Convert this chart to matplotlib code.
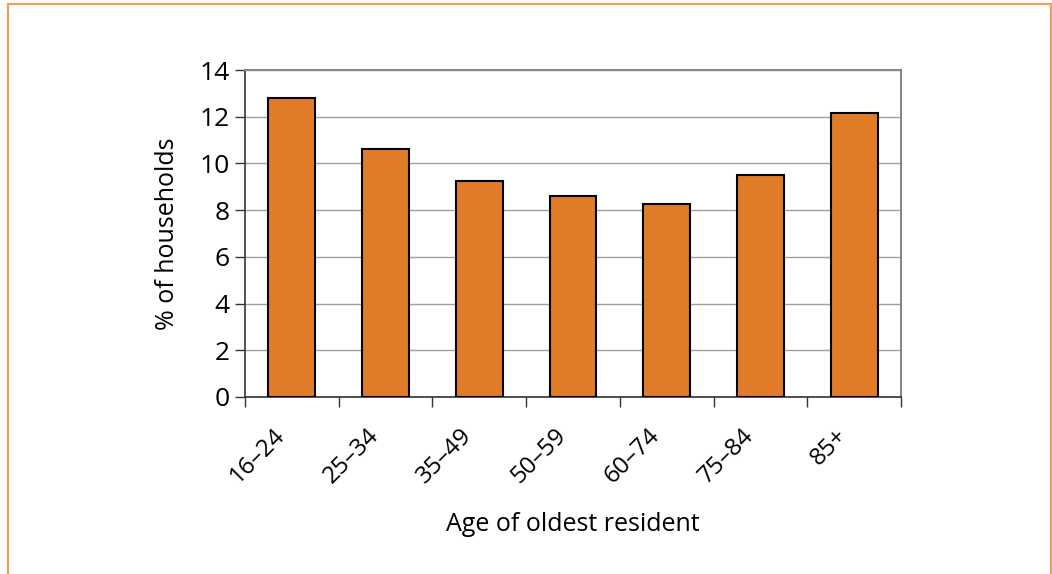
import matplotlib
matplotlib.use("Agg")
import matplotlib.pyplot as plt
from matplotlib.patches import Rectangle
from matplotlib.transforms import ScaledTranslation
import numpy as np

categories = ["16–24", "25–34", "35–49", "50–59", "60–74", "75–84", "85+"]
values = [12.8, 10.6, 9.25, 8.6, 8.25, 9.5, 12.15]
yticks = [0, 2, 4, 6, 8, 10, 12, 14]

plt.rcParams['font.family'] = ['Open Sans', 'DejaVu Sans']

fig = plt.figure(figsize=(10.52, 5.74), dpi=100)
ax = fig.add_axes([245/1052, 1 - 397/574, 656/1052, 327/574])

x = np.arange(len(categories))
ax.bar(x, values, width=0.5, color="#e07b28", edgecolor="black", linewidth=1.5, zorder=3)

ax.set_xlim(-0.5, len(categories) - 0.5)
ax.set_ylim(0, 14)
ax.set_yticks(yticks)
ax.set_yticklabels([str(t) for t in yticks], fontsize=19)
ax.yaxis.grid(True, color="#a0a0a0", linewidth=1.0, zorder=0)

ax.set_xticks(x)
ax.set_xticklabels(categories, rotation=45, ha="right", rotation_mode="anchor", fontsize=17.5)
ax.tick_params(axis="x", length=0, pad=14)
offset = ScaledTranslation(-19/100, -7/100, fig.dpi_scale_trans)
for lbl in ax.get_xticklabels():
    lbl.set_transform(lbl.get_transform() + offset)
ax.set_xticks(np.arange(len(categories) + 1) - 0.5, minor=True)
ax.tick_params(axis="x", which="minor", length=7, width=1, color="#333333", direction="out")
ax.tick_params(axis="y", length=7, width=1, color="#333333", direction="out", pad=4)

for s in ["top", "right"]:
    ax.spines[s].set_color("#888888")
    ax.spines[s].set_linewidth(1.5)
ax.spines["left"].set_color("#333333")
ax.spines["bottom"].set_color("#333333")
ax.spines["left"].set_linewidth(1.2)
ax.spines["bottom"].set_linewidth(1.2)

ax.set_ylabel("% of households", fontsize=18, labelpad=14)
ax.set_xlabel("Age of oldest resident", fontsize=18, labelpad=17)

# figure border
fig.patches.append(Rectangle((8/1052, -0.01), (1051 - 8)/1052, 1 - 4/574 + 0.01,
                             transform=fig.transFigure, fill=False,
                             edgecolor="#f0a050", linewidth=1.5))

fig.savefig("out.png", dpi=100)
